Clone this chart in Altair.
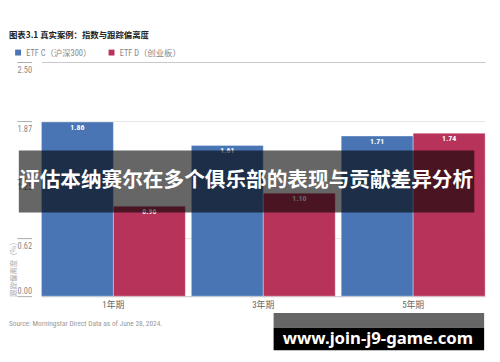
import altair as alt
import pandas as pd

periods = ["1年期", "3年期", "5年期"]
series = ["ETF C（沪深300）", "ETF D（创业板）"]
etf_c = [1.86, 1.61, 1.71]
etf_d = [0.96, 1.10, 1.74]
y_ticks = [0.00, 0.62, 1.25, 1.87, 2.50]
colors = ["#4a75b5", "#b83359"]

chart_title = "图表3.1 真实案例：指数与跟踪偏离度"
y_title = "跟踪偏离度（%）"
source_text = "Source: Morningstar Direct  Data as of June 28, 2024."
banner_text = "评估本纳赛尔在多个俱乐部的表现与贡献差异分析"
watermark_text = "www.join-j9-game.com"

rows = []
for i, p in enumerate(periods):
    rows.append({"period": p, "series": series[0], "value": etf_c[i]})
    rows.append({"period": p, "series": series[1], "value": etf_d[i]})
df = pd.DataFrame(rows)

NARROW = "Liberation Sans Narrow, Roboto Condensed, Roboto, Noto Sans CJK SC, sans-serif"
CJK = "Noto Sans CJK SC, sans-serif"

W, H = 451, 238

x = alt.X(
    "period:N", sort=periods,
    scale=alt.Scale(paddingInner=0.04, paddingOuter=0),
    axis=alt.Axis(title=None, labelAngle=0, ticks=False, domainColor="#cccccc",
                  labelColor="#666666", labelFontSize=9, labelPadding=5, labelFont=NARROW),
)
xo = alt.XOffset("series:N", sort=series, scale=alt.Scale(paddingInner=0, paddingOuter=0))
y = alt.Y(
    "value:Q",
    scale=alt.Scale(domain=[0, 2.5], nice=False, zero=True),
    axis=alt.Axis(
        values=y_ticks, format=".2f", title=y_title,
        offset=10, tickSize=15, tickColor="#aaaaaa", domain=False,
        labelPadding=-15, labelAlign="right", labelBaseline="middle",
        labelOffset={"condition": {"test": "datum.value == 0", "value": -6}, "value": 7.5},
        labelColor="#888888", labelFontSize=8.5, labelFont=NARROW,
        grid=True,
        gridColor={"condition": {"test": "datum.value == 2.5", "value": "#c8c8c8"}, "value": "#e6e6e6"},
        titleAngle=270, titleX=-18, titleY=238, titleAlign="left", titleBaseline="middle",
        titleFontSize=7.5, titleColor="#aaaaaa", titleFontWeight="normal", titleFont=CJK,
    ),
)
color = alt.Color(
    "series:N", sort=series,
    scale=alt.Scale(domain=series, range=colors),
    legend=alt.Legend(orient="none", legendX=-28, legendY=-14, direction="horizontal",
                      title=None, symbolType="square", symbolSize=36, symbolStrokeWidth=0,
                      labelFontSize=8.5, labelColor="#888888", labelFont=NARROW,
                      columnPadding=16, labelOffset=4),
)

bars = alt.Chart(df).mark_bar(stroke="white", strokeOpacity=0.35, strokeWidth=1).encode(
    x=x, xOffset=xo, y=y, color=color
)
labels = alt.Chart(df).mark_text(color="white", fontWeight="bold", fontSize=8,
                                 baseline="middle", dy=6, font=NARROW).encode(
    x=x, xOffset=xo, y=y, text=alt.Text("value:Q", format=".2f")
)

one = pd.DataFrame({"k": [0]})

banner_rect = alt.Chart(one).mark_rect(color="black", opacity=0.6).encode(
    x=alt.value(-23), x2=alt.value(440), y=alt.value(90), y2=alt.value(153)
)
banner = alt.Chart(pd.DataFrame({"t": [banner_text]})).mark_text(
    color="white", fontWeight="bold", fontSize=21, font=CJK, align="center", baseline="middle"
).encode(x=alt.value(208), y=alt.value(121.5), text="t:N")

wm_gray = alt.Chart(one).mark_rect(color="black", opacity=0.6).encode(
    x=alt.value(236), x2=alt.value(450), y=alt.value(255), y2=alt.value(270)
)
wm_black = alt.Chart(one).mark_rect(color="black").encode(
    x=alt.value(236), x2=alt.value(450), y=alt.value(270), y2=alt.value(293)
)
wm_text = alt.Chart(pd.DataFrame({"t": [watermark_text]})).mark_text(
    color="white", fontWeight="bold", fontSize=17, font="Noto Sans, DejaVu Sans, sans-serif",
    align="center", baseline="middle"
).encode(x=alt.value(342), y=alt.value(281.5), text="t:N")

title = alt.Chart(pd.DataFrame({"t": [chart_title]})).mark_text(
    color="#222222", fontWeight="bold", fontSize=8.5, font=CJK, align="left", baseline="middle"
).encode(x=alt.value(-33), y=alt.value(-27), text="t:N")

source = alt.Chart(pd.DataFrame({"t": [source_text]})).mark_text(
    color="#999999", fontSize=7.5, font=NARROW, align="left", baseline="middle"
).encode(x=alt.value(-33), y=alt.value(266), text="t:N")

chart = alt.layer(
    bars, labels, banner_rect, banner, wm_gray, wm_black, wm_text, title, source
).properties(
    width=W, height=H,
    autosize=alt.AutoSizeParams(type="none"),
    padding={"left": 34, "top": 52, "right": 7, "bottom": 64},
    background="white",
).configure_view(stroke=None)

chart.save("out.html", embed_options={"renderer": "svg", "actions": False})
